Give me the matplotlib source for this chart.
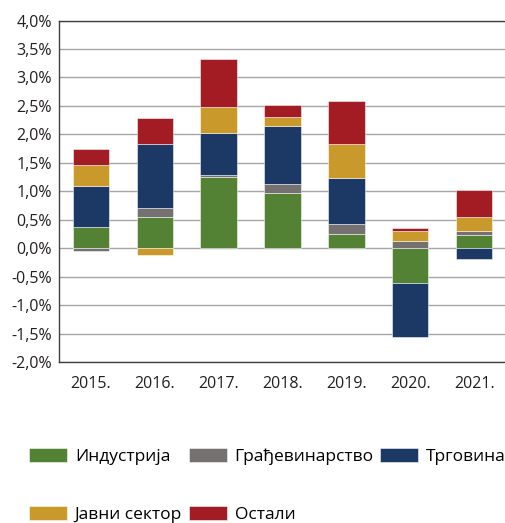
import matplotlib
matplotlib.use("Agg")
import matplotlib.pyplot as plt
import numpy as np

years = ["2015.", "2016.", "2017.", "2018.", "2019.", "2020.", "2021."]
series_names = ["Индустрија", "Грађевинарство", "Трговина", "Јавни сектор", "Остали"]
industrija = [0.37, 0.55, 1.25, 0.98, 0.25, -0.60, 0.24]
gradjevinarstvo = [-0.04, 0.16, 0.04, 0.15, 0.18, 0.14, 0.07]
trgovina = [0.73, 1.12, 0.73, 1.02, 0.80, -0.96, -0.19]
javni_sektor = [0.36, -0.11, 0.46, 0.16, 0.61, 0.17, 0.25]
ostali = [0.29, 0.46, 0.85, 0.21, 0.74, 0.05, 0.46]
colors = ["#548235", "#767171", "#1c3864", "#c9992c", "#a31c23"]
yticks = [-2.0, -1.5, -1.0, -0.5, 0.0, 0.5, 1.0, 1.5, 2.0, 2.5, 3.0, 3.5, 4.0]

plt.rcParams['font.family'] = ['Open Sans', 'DejaVu Sans']

fig = plt.figure(figsize=(5.06, 5.23), dpi=100)
ax = fig.add_axes([0.1166, 0.3069, 0.8834, 0.6539])

x = np.arange(len(years))
pos_base = np.zeros(len(years))
neg_base = np.zeros(len(years))
handles = []
for name, vals, c in zip(series_names, [industrija, gradjevinarstvo, trgovina, javni_sektor, ostali], colors):
    vals = np.array(vals)
    bottoms = np.where(vals >= 0, pos_base, neg_base)
    b = ax.bar(x, vals, width=0.57, bottom=bottoms, color=c, edgecolor=(1, 1, 1, 0.6),
               linewidth=0.6, label=name, zorder=3)
    handles.append(b)
    pos_base = pos_base + np.where(vals >= 0, vals, 0)
    neg_base = neg_base + np.where(vals < 0, vals, 0)

ax.set_xlim(-0.5, len(years) - 0.5)
ax.set_ylim(-2.0, 4.0)
ax.set_yticks(yticks)
ax.set_yticklabels([f"{v:.1f}%".replace(".", ",") for v in yticks])
ax.set_xticks(x)
ax.set_xticklabels(years)
ax.tick_params(axis='both', length=0, labelsize=11.5, colors="#231f20")
ax.tick_params(axis='y', pad=5)
ax.tick_params(axis='x', pad=10)
ax.yaxis.grid(True, color="#a6a6a6", linewidth=1.0, zorder=0)
ax.set_axisbelow(True)
for s in ["left", "top", "bottom"]:
    ax.spines[s].set_color("#404040")
    ax.spines[s].set_linewidth(1.0)
ax.spines["right"].set_visible(False)

# order so that column-major filling gives row-wise reading order
order = [0, 3, 1, 4, 2]
fig.legend(handles=[handles[i] for i in order], labels=[series_names[i] for i in order],
           ncol=3, loc="upper left",
           bbox_to_anchor=(0.057, 0.143), frameon=False, fontsize=12.5,
           handlelength=2.2, handleheight=0.86, handletextpad=0.45,
           columnspacing=0.37, labelspacing=2.35, borderaxespad=0, borderpad=0)

fig.savefig("out.png", dpi=100)
